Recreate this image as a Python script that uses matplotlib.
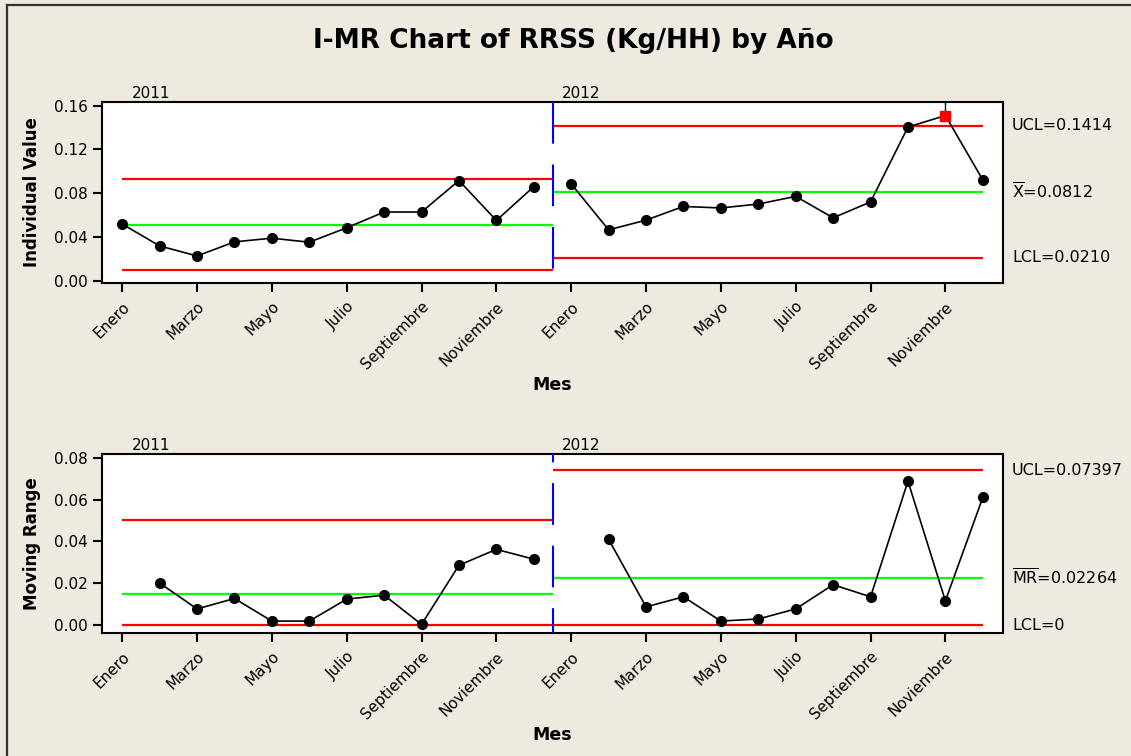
import numpy as np
import matplotlib
matplotlib.use("Agg")
import matplotlib.pyplot as plt
from matplotlib.lines import Line2D

# ---- data -------------------------------------------------------------
meses = ["Enero", "Febrero", "Marzo", "Abril", "Mayo", "Junio", "Julio",
         "Agosto", "Septiembre", "Octubre", "Noviembre", "Diciembre"]
anios = ["2011", "2012"]

ind_2011 = [0.0517, 0.0317, 0.0225, 0.0354, 0.0388, 0.0351,
            0.0483, 0.0627, 0.0627, 0.0915, 0.0550, 0.0859]
ind_2012 = [0.0884, 0.0464, 0.0553, 0.0678, 0.0664, 0.0700,
            0.0770, 0.0574, 0.0719, 0.1404, 0.1509, 0.0921]

mr_2011 = [np.nan, 0.0201, 0.0077, 0.0127, 0.0019, 0.0019,
           0.0124, 0.0143, 0.0003, 0.0286, 0.0362, 0.0315]
mr_2012 = [np.nan, 0.0410, 0.0087, 0.0135, 0.0019, 0.0029,
           0.0077, 0.0193, 0.0135, 0.0688, 0.0116, 0.0610]

# control limits per stage: (LCL, centre, UCL)
ind_lim_2011 = (0.0094, 0.0510, 0.0926)
ind_lim_2012 = (0.0210, 0.0812, 0.1414)
mr_lim_2011 = (0.0, 0.0150, 0.0503)
mr_lim_2012 = (0.0, 0.02264, 0.07397)

ind_lim_text = ["LCL=0.0210", r"$\overline{\mathrm{X}}$=0.0812", "UCL=0.1414"]
mr_lim_text = ["LCL=0", r"$\overline{\mathrm{MR}}$=0.02264", "UCL=0.07397"]

ind_yticks = [0.00, 0.04, 0.08, 0.12, 0.16]
mr_yticks = [0.00, 0.02, 0.04, 0.06, 0.08]

title = "I-MR Chart of RRSS (Kg/HH) by Año"

# ---- styling ----------------------------------------------------------
BG = "#EEEAE0"
plt.rcParams["font.family"] = ["DejaVu Sans"]
W, H = 1131, 756
fig = plt.figure(figsize=(W / 100, H / 100), dpi=100, facecolor=BG)

n = len(meses)
x_all = np.arange(2 * n)
x11 = x_all[:n]
x12 = x_all[n:]
split = n - 0.5

def px_box(left, top, right, bottom):
    return [left / W, 1 - bottom / H, (right - left) / W, (bottom - top) / H]

ax_i = fig.add_axes(px_box(102, 102, 1003, 283))
ax_m = fig.add_axes(px_box(102, 454, 1003, 633))


def style_axes(ax, yticks, ylim, ylabel, dash_offset):
    ax.set_facecolor("white")
    ax.set_xlim(-0.54, 2 * n - 0.46)
    ax.set_ylim(*ylim)
    for sp in ax.spines.values():
        sp.set_linewidth(1.5)
        sp.set_color("black")
    ax.set_yticks(yticks)
    ax.set_yticklabels([f"{v:.2f}" for v in yticks])
    ticks = list(range(0, n, 2)) + list(range(n, 2 * n, 2))
    ax.set_xticks(ticks)
    ax.set_xticklabels([meses[t % n] for t in ticks], rotation=45,
                       ha="right", va="top", rotation_mode="anchor")
    ax.tick_params(axis="both", direction="out", length=6.5, width=1.5,
                   labelsize=11, color="black")
    ax.tick_params(axis="x", pad=5)
    ax.tick_params(axis="y", pad=4)
    ax.set_ylabel(ylabel, fontsize=12, fontweight="bold")
    ax.yaxis.set_label_coords(-0.068, 0.5)
    # year labels above each stage
    for xpos, yr in zip([0.25, n - 0.25], anios):
        ax.annotate(yr, xy=(xpos, 1.0), xycoords=("data", "axes fraction"),
                    xytext=(0, 3), textcoords="offset points",
                    ha="left", va="baseline", fontsize=11)
    # stage separator, dashed from the top edge down
    ax.plot([split, split], [1, 0], transform=ax.get_xaxis_transform(),
            color="#0000FF", lw=1.5, linestyle=(dash_offset, (20, 10)),
            zorder=4, clip_on=False)


def limits(ax, lim11, lim12, texts):
    for lim, (x0, x1) in ((lim11, (0, split)), (lim12, (split, 2 * n - 1))):
        lcl, cl, ucl = lim
        ax.hlines([lcl, ucl], x0, x1, colors="#FF0000", lw=1.6, zorder=2)
        ax.hlines(cl, x0, x1, colors="#00FF00", lw=1.6, zorder=2)
    for val, txt in zip(lim12, texts):
        ax.annotate(txt, xy=(1.0, val), xycoords=("axes fraction", "data"),
                    xytext=(6.5, 0), textcoords="offset points",
                    ha="left", va="center", fontsize=11.5,
                    annotation_clip=False)


# ---- individuals chart ------------------------------------------------
style_axes(ax_i, ind_yticks, (-0.0022, 0.1633), "Individual Value", 0)
limits(ax_i, ind_lim_2011, ind_lim_2012, ind_lim_text)
ax_i.plot(x11, ind_2011, color="black", lw=1.2, marker="o", ms=7, zorder=5)
ax_i.plot(x12, ind_2012, color="black", lw=1.2, marker="o", ms=7, zorder=5)

# out-of-control point (above UCL) shown as red square
ucl12 = ind_lim_2012[2]
ooc = [i for i, v in enumerate(ind_2012) if v > ucl12]
for i in ooc:
    ax_i.plot([x12[i], x12[i]], [ind_2012[i], ax_i.get_ylim()[1]],
              color="black", lw=1.0, zorder=5)
    ax_i.plot(x12[i], ind_2012[i], marker="s", ms=7, color="#FF0000",
              mec="#FF0000", zorder=6)

# ---- moving range chart -----------------------------------------------
style_axes(ax_m, mr_yticks, (-0.0038, 0.0818), "Moving Range", 16)
limits(ax_m, mr_lim_2011, mr_lim_2012, mr_lim_text)
ax_m.plot(x11, mr_2011, color="black", lw=1.2, marker="o", ms=7, zorder=5)
ax_m.plot(x12, mr_2012, color="black", lw=1.2, marker="o", ms=7, zorder=5)

# ---- figure texts -----------------------------------------------------
fig.text(573 / W, 1 - 41.5 / H, title, ha="center", va="center",
         fontsize=19, fontweight="bold")
for yc in (385, 735):
    fig.text(552.5 / W, 1 - yc / H, "Mes", ha="center", va="center",
             fontsize=12.5, fontweight="bold")

# outer frame (left and top edges)
fig.add_artist(Line2D([7 / W, 7 / W], [0, 1 - 5 / H], transform=fig.transFigure,
                      color="#333333", lw=1.6))
fig.add_artist(Line2D([7 / W, 1.01], [1 - 5 / H, 1 - 5 / H],
                      transform=fig.transFigure, color="#333333", lw=1.6))

fig.savefig("out.png", dpi=100, facecolor=BG)
